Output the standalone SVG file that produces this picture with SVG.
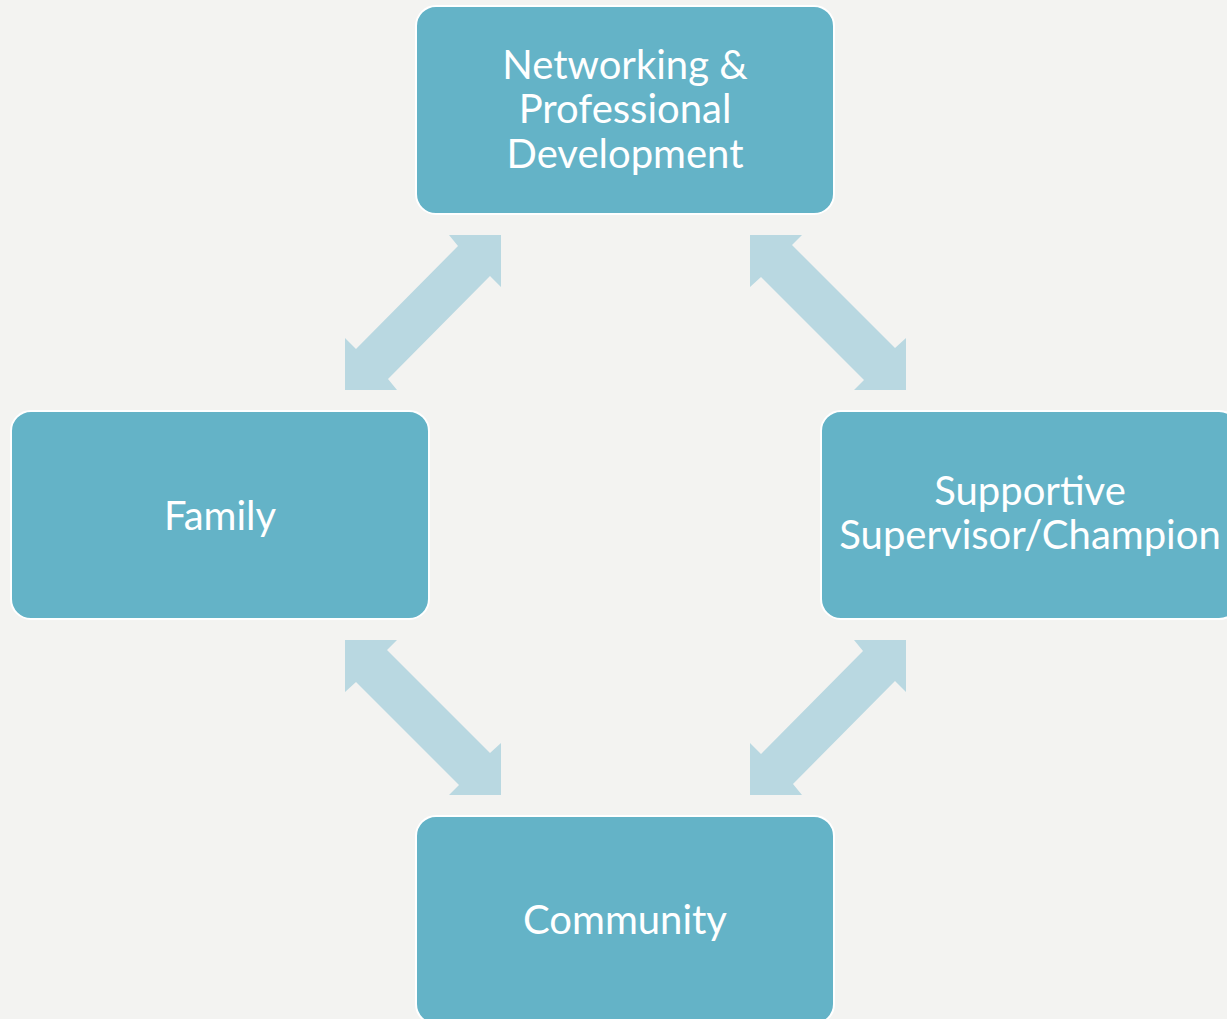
<svg xmlns="http://www.w3.org/2000/svg" width="1227" height="1019" viewBox="0 0 1227 1019">
<style>
.box{fill:#64B3C7;stroke:#FFFFFF;stroke-width:2}
.arr{fill:#B9D8E1}
.lbl{fill:#FFFFFF;font-family:Lato,"Open Sans","Liberation Sans",sans-serif;font-size:40px;text-anchor:middle}
</style>
<rect width="1227" height="1019" fill="#F3F3F1"/>
<g id="connectors">
<polygon class="arr" points="501,235 501,287 490,276 388,379 397,390 345,390 345,338 356,349 458,246 449,235"/>
<polygon class="arr" points="750,235 802,235 792,245 895,348 906,338 906,390 854,390 864,380 761,277 750,287"/>
<polygon class="arr" points="345,640 397,640 387,650 490,753 501,743 501,795 449,795 459,785 356,682 345,692"/>
<polygon class="arr" points="906,640 906,692 895,681 793,784 802,795 750,795 750,743 761,754 863,651 854,640"/>
</g>
<g id="node-networking">
<rect class="box" x="416" y="6" width="418" height="208" rx="20"/>
<text class="lbl" x="625" y="79">Networking &amp;</text>
<text class="lbl" x="625" y="123">Professional</text>
<text class="lbl" x="625" y="168">Development</text>
</g>
<g id="node-family">
<rect class="box" x="11" y="411" width="418" height="208" rx="20"/>
<text class="lbl" x="220" y="530">Family</text>
</g>
<g id="node-supervisor">
<rect class="box" x="821" y="411" width="418" height="208" rx="20"/>
<text class="lbl" x="1030" y="505">Supportive</text>
<text class="lbl" x="1030" y="549">Supervisor/Champion</text>
</g>
<g id="node-community">
<rect class="box" x="416" y="816" width="418" height="208" rx="20"/>
<text class="lbl" x="625" y="934">Community</text>
</g>
</svg>
